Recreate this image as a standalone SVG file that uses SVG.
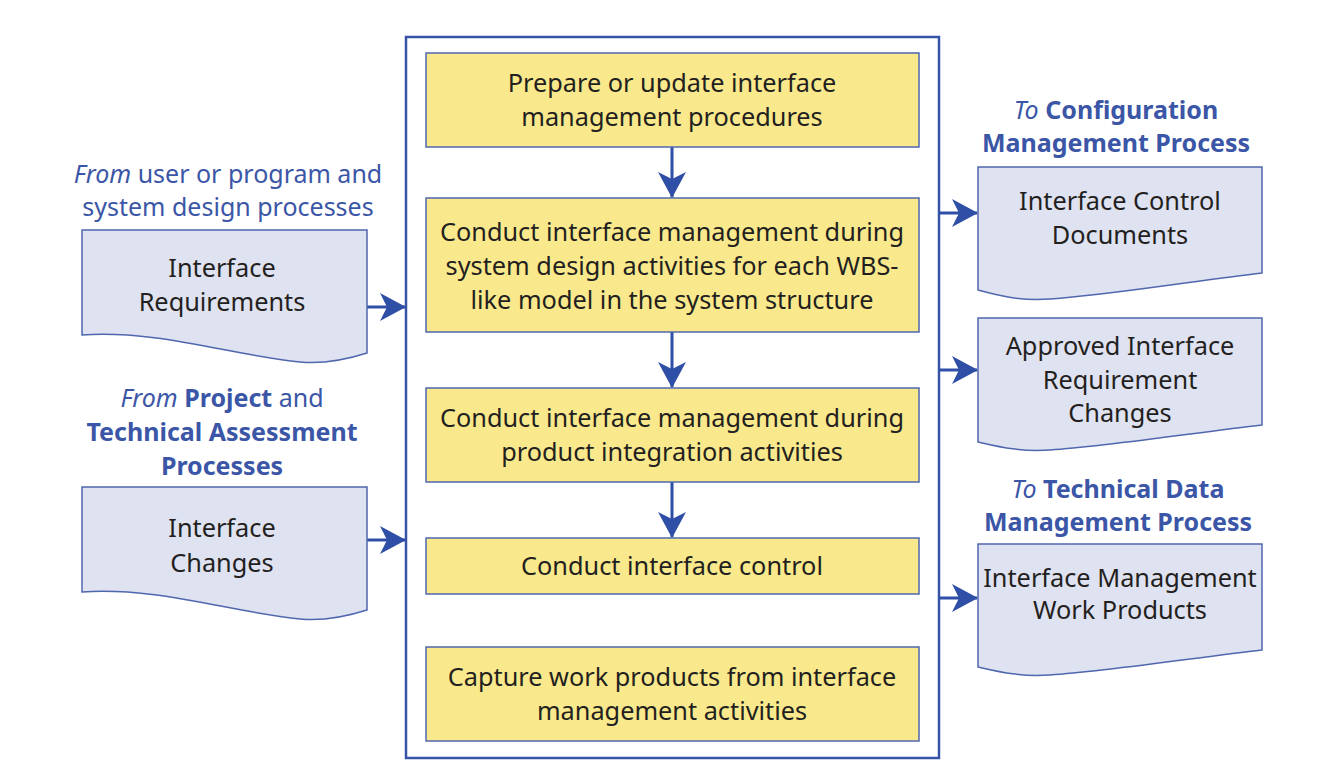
<svg xmlns="http://www.w3.org/2000/svg" width="1339" height="782" viewBox="0 0 1339 782">
<defs>
<style>
.t{font-family:"Noto Sans","Liberation Sans",sans-serif;font-size:25.3px;fill:#231f20;text-anchor:middle}
.lb{font-family:"Noto Sans","Liberation Sans",sans-serif;font-size:25px;fill:#3b56a6;text-anchor:middle}
.b{font-weight:bold}
.i{font-style:italic}
.box{fill:#f9e98c;stroke:#4f67ae;stroke-width:1.5}
.doc{fill:#dfe2f0;stroke:#4f67ae;stroke-width:1.5}
.ln{stroke:#2f4fa6;stroke-width:3;fill:none}
</style>
<marker id="ah" viewBox="0 0 26 28" refX="25" refY="14" markerWidth="26" markerHeight="28" markerUnits="userSpaceOnUse" orient="auto">
<path d="M0,0 L26,14 L0,28 L7,14 Z" fill="#2f4fa6"/>
</marker>
</defs>
<rect width="1339" height="782" fill="#ffffff"/>
<g id="container"><rect x="406" y="37" width="533" height="721" fill="none" stroke="#3653a6" stroke-width="2.5"/></g>
<g id="connectors">
<line class="ln" x1="672" y1="147" x2="672" y2="197" marker-end="url(#ah)"/>
<line class="ln" x1="672" y1="332" x2="672" y2="387" marker-end="url(#ah)"/>
<line class="ln" x1="672" y1="482" x2="672" y2="537" marker-end="url(#ah)"/>
<line class="ln" x1="367" y1="307" x2="405" y2="307" marker-end="url(#ah)"/>
<line class="ln" x1="367" y1="540" x2="405" y2="540" marker-end="url(#ah)"/>
<line class="ln" x1="939" y1="213" x2="977" y2="213" marker-end="url(#ah)"/>
<line class="ln" x1="939" y1="370" x2="977" y2="370" marker-end="url(#ah)"/>
<line class="ln" x1="939" y1="598" x2="977" y2="598" marker-end="url(#ah)"/>
</g>
<g id="p1"><rect class="box" x="426" y="53" width="493" height="94"/>
<text class="t" x="672" y="92">Prepare or update interface</text><text class="t" x="672" y="126">management procedures</text></g>
<g id="p2"><rect class="box" x="426" y="198" width="493" height="134"/>
<text class="t" x="672" y="241">Conduct interface management during</text><text class="t" x="672" y="275">system design activities for each WBS-</text><text class="t" x="672" y="309">like model in the system structure</text></g>
<g id="p3"><rect class="box" x="426" y="388" width="493" height="94"/>
<text class="t" x="672" y="427">Conduct interface management during</text><text class="t" x="672" y="461">product integration activities</text></g>
<g id="p4"><rect class="box" x="426" y="538" width="493" height="56"/>
<text class="t" x="672" y="575">Conduct interface control</text></g>
<g id="p5"><rect class="box" x="426" y="647" width="493" height="94"/>
<text class="t" x="672" y="686">Capture work products from interface</text><text class="t" x="672" y="720">management activities</text></g>
<g id="in1">
<text class="lb" x="228" y="183"><tspan class="i">From</tspan> user or program and</text>
<text class="lb" x="228" y="216">system design processes</text>
<path class="doc" d="M82,230 H367 V353 C345,360 320,364 300,362 C230,355 160,330 82,335 Z"/>
<text class="t" x="222" y="277">Interface</text><text class="t" x="222" y="311">Requirements</text></g>
<g id="in2">
<text class="lb" x="222" y="407"><tspan class="i">From</tspan> <tspan class="b">Project</tspan> and</text>
<text class="lb b" x="222" y="441">Technical Assessment</text>
<text class="lb b" x="222" y="475">Processes</text>
<path class="doc" d="M82,487 H367 V610 C345,617 320,621 300,619 C230,612 160,587 82,592 Z"/>
<text class="t" x="222" y="537">Interface</text><text class="t" x="222" y="572">Changes</text></g>
<g id="out1">
<text class="lb" x="1116" y="119"><tspan class="i">To</tspan> <tspan class="b">Configuration</tspan></text>
<text class="lb b" x="1116" y="152">Management Process</text>
<path class="doc" d="M978,167 H1262 V273 C1200,280 1110,295 1050,299 C1020,301 1000,296 978,290 Z"/>
<text class="t" x="1120" y="210">Interface Control</text><text class="t" x="1120" y="244">Documents</text></g>
<g id="out2">
<path class="doc" d="M978,318 H1262 V425 C1200,432 1110,446 1050,450 C1020,452 1000,447 978,442 Z"/>
<text class="t" x="1120" y="355">Approved Interface</text><text class="t" x="1120" y="389">Requirement</text><text class="t" x="1120" y="422">Changes</text></g>
<g id="out3">
<text class="lb" x="1118" y="498"><tspan class="i">To</tspan> <tspan class="b">Technical Data</tspan></text>
<text class="lb b" x="1118" y="531">Management Process</text>
<path class="doc" d="M978,544 H1262 V650 C1200,657 1110,671 1050,675 C1020,677 1000,672 978,667 Z"/>
<text class="t" x="1120" y="587">Interface Management</text><text class="t" x="1120" y="619">Work Products</text></g>
</svg>
